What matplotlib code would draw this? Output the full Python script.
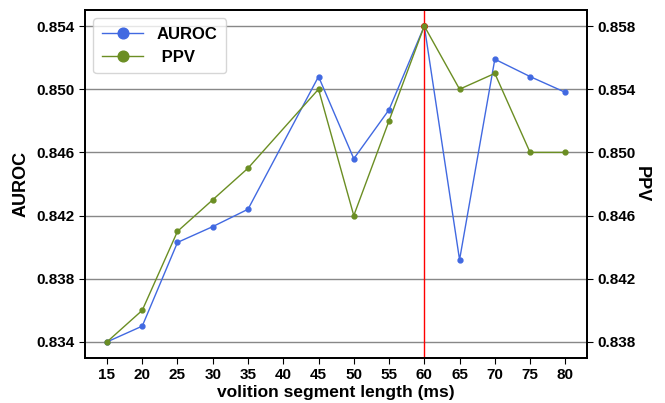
import matplotlib
matplotlib.use("Agg")
import matplotlib.pyplot as plt

plt.rcParams['font.family'] = ['Liberation Sans', 'DejaVu Sans']

seg_len = [15, 20, 25, 30, 35, 45, 50, 55, 60, 65, 70, 75, 80]
auroc = [0.8340, 0.8350, 0.8403, 0.8413, 0.8424, 0.8508, 0.8456, 0.8487,
         0.8540, 0.8392, 0.8519, 0.8508, 0.8498]
ppv = [0.838, 0.840, 0.845, 0.847, 0.849, 0.854, 0.846, 0.852,
       0.858, 0.854, 0.855, 0.850, 0.850]
xticks = list(range(15, 85, 5))
auroc_ticks = [0.834, 0.838, 0.842, 0.846, 0.850, 0.854]
ppv_ticks = [0.838, 0.842, 0.846, 0.850, 0.854, 0.858]
best_len = 60
best_auroc = 0.854

blue = '#4169e1'
green = '#6b8e23'

fig, ax = plt.subplots(figsize=(6.65, 4.03), dpi=100)
fig.subplots_adjust(left=0.128, right=0.883, top=0.975, bottom=0.112)
ax2 = ax.twinx()

for y in auroc_ticks:
    ax.axhline(y, color='#888888', lw=1, zorder=0)

l1, = ax.plot(seg_len, auroc, '-o', color=blue, lw=1, ms=3.5, label='AUROC')
l2, = ax2.plot(seg_len, ppv, '-o', color=green, lw=1, ms=3.5, label='PPV')
ax.axvline(best_len, color='red', lw=1, zorder=3)
ax.plot([best_len], [best_auroc], 'o', color='red', ms=4, zorder=5)

ax.set_xlim(11.9, 83.1)
ax.set_ylim(0.83299, 0.85501)
ax2.set_ylim(0.83699, 0.85901)
ax.set_xticks(xticks)
ax.set_yticks(auroc_ticks)
ax2.set_yticks(ppv_ticks)
ax.set_yticklabels(['%.3f' % t for t in auroc_ticks])
ax2.set_yticklabels(['%.3f' % t for t in ppv_ticks])

for a in (ax, ax2):
    a.tick_params(labelsize=11, length=4)
    for lab in a.get_xticklabels() + a.get_yticklabels():
        lab.set_fontweight('bold')
    for s in a.spines.values():
        s.set_linewidth(1.3)

ax.set_xlabel('volition segment length (ms)', fontsize=12.5, fontweight='bold', labelpad=2)
ax.set_ylabel('AUROC', fontsize=13, fontweight='bold', labelpad=5)
ax2.set_ylabel('PPV', fontsize=13, fontweight='bold', rotation=270, labelpad=10)

leg = ax.legend([l1, l2], ['AUROC', ' PPV'], loc='upper left', fontsize=12,
                markerscale=2.2, handlelength=2.5, borderpad=0.5)
leg.get_frame().set_edgecolor('#cccccc')
for t in leg.get_texts():
    t.set_fontweight('bold')

fig.savefig('out.png', dpi=100)
